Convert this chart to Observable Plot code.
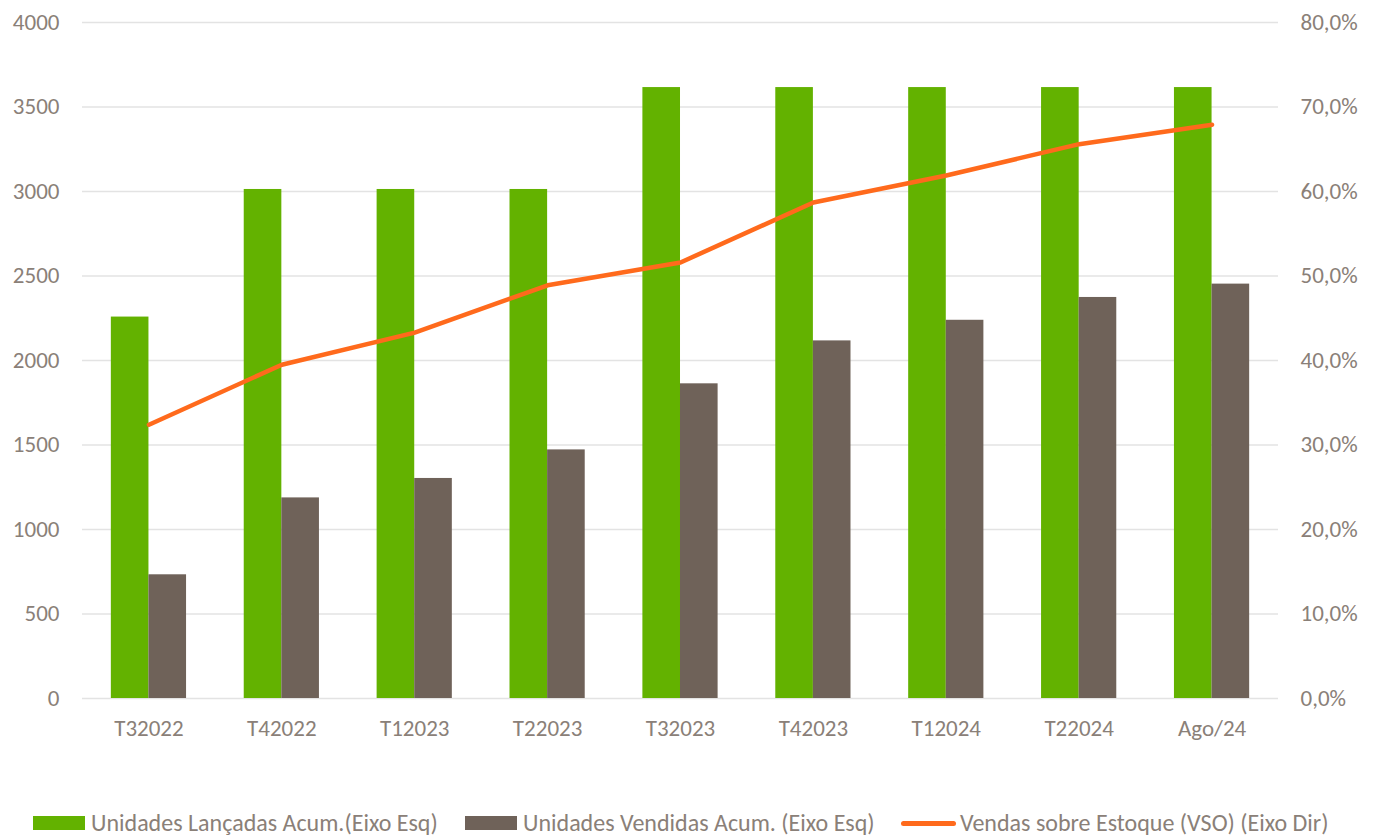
<!DOCTYPE html>
<html>
<head>
<meta charset="utf-8">
<script src="https://cdn.jsdelivr.net/npm/d3@7"></script>
<script src="https://cdn.jsdelivr.net/npm/@observablehq/plot@0.6"></script>
<style>
  html, body { margin: 0; padding: 0; background: #fff; }
  body { width: 1375px; height: 836px; position: relative; overflow: hidden; font-family: Carlito, Lato, "Open Sans", sans-serif; }
  #chart { position: absolute; left: 0; top: 0; }
  .legend { position: absolute; top: 770px; left: 0; width: 1375px; height: 66px; }
  .item { position: absolute; top: 40px; display: flex; align-items: center; font-size: 24px; color: #8a8078; white-space: nowrap; line-height: 26px; }
  .sw { display: inline-block; width: 52px; height: 14px; margin-right: 6px; }
  .ln { display: inline-block; width: 55px; height: 5px; border-radius: 3px; margin-right: 4px; }
</style>
</head>
<body>
<div id="chart"></div>
<div class="legend">
  <div class="item" style="left:33px"><span class="sw" style="background:#63b200"></span><span id="l1"></span></div>
  <div class="item" style="left:465px"><span class="sw" style="background:#6f6259"></span><span id="l2"></span></div>
  <div class="item" style="left:901px"><span class="ln" style="background:#ff6a1c"></span><span id="l3"></span></div>
</div>
<script>
const categories = ["T32022", "T42022", "T12023", "T22023", "T32023", "T42023", "T12024", "T22024", "Ago/24"];
const lancadas = [2257, 3012, 3012, 3012, 3615, 3615, 3615, 3615, 3615];
const vendidas = [732, 1187, 1302, 1471, 1862, 2116, 2238, 2373, 2452];
const vso = [32.4, 39.5, 43.3, 48.9, 51.6, 58.7, 61.9, 65.6, 67.9];
const leftTicks = [0, 500, 1000, 1500, 2000, 2500, 3000, 3500, 4000];
const rightTicks = [0, 10, 20, 30, 40, 50, 60, 70, 80];
const seriesNames = ["Unidades Lançadas Acum.(Eixo Esq)", "Unidades Vendidas Acum. (Eixo Esq)", "Vendas sobre Estoque (VSO) (Eixo Dir)"];

document.getElementById("l1").textContent = seriesNames[0];
document.getElementById("l2").textContent = seriesNames[1];
document.getElementById("l3").textContent = seriesNames[2];

const leftMax = 4000, rightMax = 80;
const toLeft = v => v * leftMax / rightMax;

const rows = categories.map((c, i) => ({cat: c, lanc: lancadas[i], vend: vendidas[i], vso: vso[i]}));
const textColor = "#8a8078";

const chart = Plot.plot({
  width: 1375,
  height: 770,
  marginLeft: 82,
  marginRight: 97,
  marginTop: 22,
  marginBottom: 72,
  style: {fontFamily: "Carlito, Lato, 'Open Sans', sans-serif", fontSize: "23px", color: textColor, background: "#fff"},
  x: {domain: categories, paddingInner: 0.434, paddingOuter: 0.217, round: false, label: null},
  y: {domain: [0, leftMax], label: null},
  marks: [
    Plot.gridY(leftTicks, {stroke: "#e3e3e3", strokeOpacity: 1, strokeWidth: 1.5}),
    Plot.barY(rows, {x: "cat", y: "lanc", fill: "#63b200", insetRight: 37.6}),
    Plot.barY(rows, {x: "cat", y: "vend", fill: "#6f6259", insetLeft: 37.6}),
    Plot.lineY(rows, {x: "cat", y: d => toLeft(d.vso), stroke: "#ff6a1c", strokeWidth: 4.5, strokeLinecap: "round", strokeLinejoin: "round"}),
    Plot.axisY(leftTicks, {anchor: "left", tickSize: 0, tickPadding: 23, label: null, fill: textColor, tickFormat: d => String(d)}),
    Plot.axisY(rightTicks.map(toLeft), {anchor: "right", tickSize: 0, tickPadding: 22, label: null, fill: textColor, textAnchor: "start",
      tickFormat: d => (d * rightMax / leftMax).toFixed(1).replace(".", ",") + "%"}),
    Plot.axisX(categories, {anchor: "bottom", tickSize: 0, tickPadding: 21, label: null, fill: textColor})
  ]
});
document.getElementById("chart").appendChild(chart);
</script>
</body>
</html>
